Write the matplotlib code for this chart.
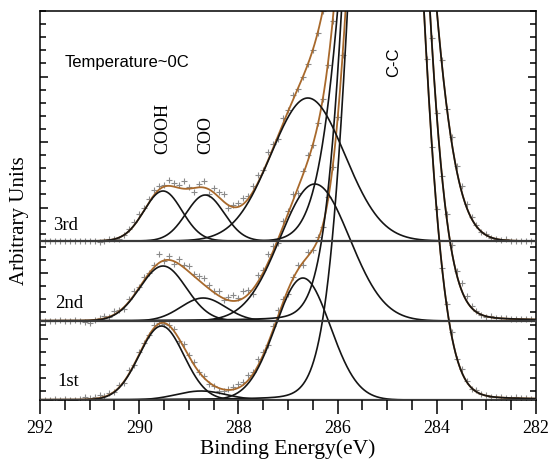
import numpy as np
import matplotlib
matplotlib.use("Agg")
import matplotlib.pyplot as plt
from matplotlib.ticker import FixedLocator, MultipleLocator

# ---------------- data ----------------
labels = ["1st", "2nd", "3rd"]
offsets = [0, 79, 159]                      # vertical offset of each spectrum

# fitted components per spectrum: centre (eV), height, FWHM (eV), Lorentz fraction
cooh_c = [289.55, 289.52, 289.52]
cooh_h = [74, 55, 50]
cooh_w = [1.06, 1.10, 0.90]

coo_c = [288.75, 288.71, 288.67]
coo_h = [9, 23, 46]
coo_w = [1.18, 1.06, 0.90]

co_c = [286.70, 286.46, 286.60]
co_h = [122, 137, 143]
co_w = [1.30, 1.65, 1.75]

cc_c = [285.03, 285.03, 285.00]
cc_h = [1000, 1090, 790]
cc_w = [1.32, 1.32, 1.50]
cc_eta = [0.03, 0.03, 0.0]

# measured points: energies and scatter about the fitted envelope
energy = np.round(np.arange(291.9, 282.05, -0.1), 1)
resid_1 = [0, 0, 1, 0, 1, 0, 0, 1, 2, 1, 2, 3, 1, 2, 0, 2, -2, 3, -1, 2,
           1, 0, 3, 1, -1, 0, 2, -2, 3, 1, 2, 0, 1, -2, 0, -3, -2, 1, 2, 4,
           3, 5, 2, 6, 3, -2, 4, 6, 3, -4, 2, 5, -3, 4, 0, 3, -2, 5, 0, 2,
           0, 0, 0, 0, 0, 0, 0, 0, 0, 0, 3, -4, 5, -3, 4, -2, 3, 5, -2, 3,
           -3, 2, 4, -2, 3, 1, -1, 2, 0, 1, 0, 0, 1, 0, 0, 1, 0, 0, 0]
resid_2 = [0, 0, 0, 1, 0, 0, 1, 0, -2, -3, 0, 1, 2, 0, 3, 1, -2, 2, 4, 1,
           3, 0, 2, 9, -1, 4, -3, 5, 3, 6, 2, 4, 6, 3, 1, 5, -2, 3, 6, 2,
           7, 4, -5, 6, 3, 8, 5, -4, 6, 3, 7, -5, 4, 6, 0, 2, 0, 0, 0, 0,
           0, 0, 0, 0, 0, 0, 0, 0, 0, 0, 0, 0, -4, 5, -3, 6, 2, -4, 5, 3,
           -2, 4, 6, 3, 7, 5, 2, 1, 0, -1, 1, 0, 0, 1, 0, 0, 0, 0, 0]
resid_3 = [0, 0, 0, 0, 0, 0, 0, 0, 0, 0, 0, -1, 0, 1, 0, -2, 0, 2, 3, 4,
           2, 3, 5, 4, 2, 6, 4, 3, 8, 2, -4, 3, 6, -5, 4, 5, 7, -3, 2, 4,
           6, 3, 5, 7, 2, 8, 4, -3, 6, 2, 5, 0, 0, 0, 0, 0, 0, 0, 0, 0,
           0, 0, 0, 0, 0, 0, 0, 0, 0, 0, 0, 0, 0, 4, -5, 3, 2, -3, 4, 6,
           3, -2, 5, 4, 6, 3, 2, 1, 0, 1, 0, 0, 0, 1, 0, 0, 0, 0, 0]
resids = [resid_1, resid_2, resid_3]

band_labels = ["COOH", "COO", "C-C"]

# ---------------- helpers ----------------
def pv(x, c, h, w, eta=0.0):
    g = np.exp(-4 * np.log(2) * (x - c) ** 2 / w ** 2)
    l = 1.0 / (1 + 4 * (x - c) ** 2 / w ** 2)
    return h * ((1 - eta) * g + eta * l)

plt.rcParams["font.family"] = ["Liberation Serif", "DejaVu Serif"]
fig = plt.figure(figsize=(5.52, 4.60), dpi=100)
ax = fig.add_axes([40 / 552, 59 / 460, 496 / 552, 389 / 460])

x = np.linspace(292, 282, 2001)
black = "#151515"
brown = "#a8692c"

for k in range(3):
    off = offsets[k]
    comps = [pv(x, cooh_c[k], cooh_h[k], cooh_w[k]),
             pv(x, coo_c[k], coo_h[k], coo_w[k]),
             pv(x, co_c[k], co_h[k], co_w[k]),
             pv(x, cc_c[k], cc_h[k], cc_w[k], cc_eta[k])]
    env = sum(comps)
    ax.plot(x, env + off, color=brown, lw=1.3, zorder=2)
    for cpt in comps:
        ax.plot(x, cpt + off, color=black, lw=1.2, zorder=3)
    ax.axhline(off, color="#3a3a3a", lw=1.6, zorder=4)
    # measured points
    e = energy
    envp = (pv(e, cooh_c[k], cooh_h[k], cooh_w[k]) + pv(e, coo_c[k], coo_h[k], coo_w[k])
            + pv(e, co_c[k], co_h[k], co_w[k]) + pv(e, cc_c[k], cc_h[k], cc_w[k], cc_eta[k]))
    ax.plot(e, envp + off + np.array(resids[k]), ls="none", marker="+", ms=5,
            mew=0.8, color="#8a8a8a", zorder=1)

ax.set_xlim(292, 282)
ax.set_ylim(0, 389)

ax.xaxis.set_major_locator(MultipleLocator(2))
ax.xaxis.set_minor_locator(MultipleLocator(0.5))
ax.tick_params(axis="x", which="major", direction="out", length=10, width=1.1,
               labelsize=13, pad=4, top=False)
ax.tick_params(axis="x", which="minor", direction="out", length=7, width=1.1, top=False)

ymaj = np.arange(-4 + 65.5, 389, 65.5)
ymin = np.arange(-4, 390, 13.1)
ax.yaxis.set_major_locator(FixedLocator(ymaj))
ax.yaxis.set_minor_locator(FixedLocator(ymin))
ax.tick_params(axis="y", which="major", direction="in", length=6, width=1.1,
               left=True, right=True, labelleft=False)
ax.tick_params(axis="y", which="minor", direction="in", length=4, width=1.1,
               left=True, right=True)
for s in ax.spines.values():
    s.set_linewidth(1.1)

ax.set_xlabel("Binding Energy(eV)", fontsize=15.5, labelpad=1)
fig.text(20 / 552, 1 - 221 / 460, "Arbitrary Units", rotation=90, fontsize=15,
         ha="center", va="center")

ax.text(291.5, 339, "Temperature~0C", fontsize=12, ha="left", va="center",
        family=["Liberation Sans", "DejaVu Sans"])
ax.text(289.52, 273, band_labels[0], rotation=90, fontsize=13, ha="center", va="center")
ax.text(288.65, 266, band_labels[1], rotation=90, fontsize=13, ha="center", va="center")
ax.text(284.88, 339, band_labels[2], rotation=90, fontsize=12, ha="center", va="center",
        family=["Liberation Sans", "DejaVu Sans"])
ax.text(291.74, 175, labels[2], fontsize=13.5, ha="left", va="center")
ax.text(291.70, 98, labels[1], fontsize=13.5, ha="left", va="center")
ax.text(291.64, 19, labels[0], fontsize=13.5, ha="left", va="center")

fig.savefig("out.png", dpi=100)
